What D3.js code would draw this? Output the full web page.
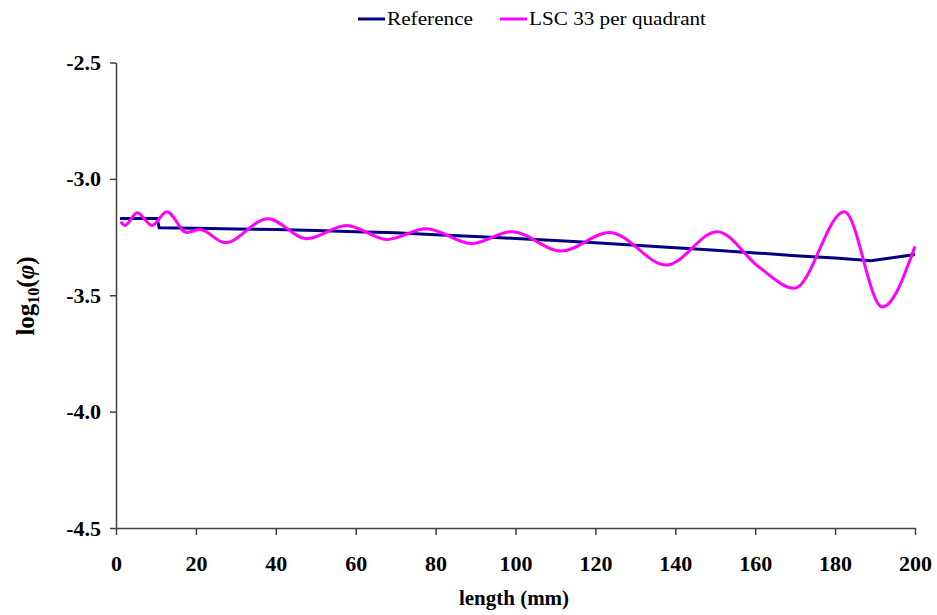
<!DOCTYPE html>
<html>
<head>
<meta charset="utf-8">
<script src="https://cdn.jsdelivr.net/npm/d3@7"></script>
<style>
  body { margin: 0; background: #fff; }
</style>
</head>
<body>
<div id="chart"></div>
<script>
// chart size
var svgWidth = 937;
var svgHeight = 615;
var serif = "'Liberation Serif'";

var margin = { top: 62.5, right: 22, bottom: 87, left: 116 };
var width = svgWidth - margin.left - margin.right;
var height = svgHeight - margin.top - margin.bottom;

// data
var seriesNames = ["Reference", "LSC 33 per quadrant"];
var seriesColors = ["#000080", "#ff00ff"];

var refX = [1, 10.3, 10.8, 20, 30, 40, 50, 60, 70, 80, 90, 100, 110, 120, 130, 140, 150, 160, 170, 180, 189, 200];
var refY = [-3.17, -3.17, -3.21, -3.212, -3.215, -3.218, -3.222, -3.227, -3.232, -3.24, -3.248, -3.256,
            -3.265, -3.274, -3.285, -3.296, -3.307, -3.318, -3.33, -3.34, -3.352, -3.325];

var lscX = [1.2, 2.2, 5.3, 9, 12.7, 17.7, 21, 27.3, 38, 47.7, 57.7, 67.8, 77.7, 89, 99, 111.5,
            123.5, 137.8, 150.5, 161, 169.8, 182.3, 191.8, 200];
var lscY = [-3.184, -3.2, -3.146, -3.2, -3.141, -3.23, -3.218, -3.274, -3.171, -3.257, -3.2, -3.26,
            -3.214, -3.278, -3.227, -3.31, -3.23, -3.37, -3.227, -3.38, -3.47, -3.141, -3.55, -3.29];

var xTicks = [0, 20, 40, 60, 80, 100, 120, 140, 160, 180, 200];
var yTicks = [-2.5, -3.0, -3.5, -4.0, -4.5];

var svg = d3.select("#chart")
  .append("svg")
  .attr("width", svgWidth)
  .attr("height", svgHeight);

var chart = svg.append("g")
  .attr("transform", "translate(" + margin.left + "," + margin.top + ")");

var xScale = d3.scaleLinear().domain([0, 200]).range([0, width]);
var yScale = d3.scaleLinear().domain([-4.5, -2.5]).range([height, 0]);

// axes
var xAxis = d3.axisBottom(xScale).tickValues(xTicks).tickSize(7).tickSizeOuter(0).tickPadding(20);
var yAxis = d3.axisLeft(yScale).tickValues(yTicks).tickSize(6).tickSizeOuter(0).tickPadding(9)
  .tickFormat(function(d) { return d3.format(".1f")(d).replace("\u2212", "-"); });

var gx = chart.append("g")
  .attr("transform", "translate(0," + height + ")")
  .call(xAxis);
var gy = chart.append("g").call(yAxis);

[gx, gy].forEach(function(g) {
  g.selectAll("path, line").attr("stroke", "#404040").attr("stroke-width", 1.5);
  g.selectAll("text")
    .attr("fill", "#000")
    .style("font-family", serif)
    .style("font-size", "22px")
    .style("font-weight", "bold");
});

// lines
var line = d3.line()
  .x(function(d) { return xScale(d[0]); })
  .y(function(d) { return yScale(d[1]); });

var refData = refX.map(function(x, i) { return [x, refY[i]]; });
var lscData = lscX.map(function(x, i) { return [x, lscY[i]]; });

chart.append("path")
  .datum(refData)
  .attr("fill", "none")
  .attr("stroke", seriesColors[0])
  .attr("stroke-width", 3)
  .attr("d", line);

chart.append("path")
  .datum(lscData)
  .attr("fill", "none")
  .attr("stroke", seriesColors[1])
  .attr("stroke-width", 3)
  .attr("d", line.curve(d3.curveMonotoneX));

// axis titles
svg.append("text")
  .attr("x", 514)
  .attr("y", 605)
  .attr("text-anchor", "middle")
  .style("font-family", serif)
  .style("font-size", "21px")
  .style("font-weight", "bold")
  .text("length (mm)");

var yTitle = svg.append("text")
  .attr("transform", "translate(34,296) rotate(-90)")
  .attr("text-anchor", "middle")
  .style("font-family", serif)
  .style("font-size", "25px")
  .style("font-weight", "bold");
yTitle.append("tspan").text("log");
yTitle.append("tspan").attr("dy", 5).style("font-size", "16px").text("10");
yTitle.append("tspan").attr("dy", -5).text("(");
yTitle.append("tspan").style("font-style", "italic").text("φ");
yTitle.append("tspan").text(")");

// legend
var legendX = [358, 500];
var legendW = [86, 177];
var legend = svg.append("g");
seriesNames.forEach(function(name, i) {
  legend.append("line")
    .attr("x1", legendX[i]).attr("x2", legendX[i] + 27)
    .attr("y1", 19).attr("y2", 19)
    .attr("stroke", seriesColors[i])
    .attr("stroke-width", 3);
  legend.append("text")
    .attr("x", legendX[i] + 29)
    .attr("y", 25)
    .attr("textLength", legendW[i])
    .attr("lengthAdjust", "spacingAndGlyphs")
    .style("font-family", serif)
    .style("font-size", "19px")
    .text(name);
});
</script>
</body>
</html>
